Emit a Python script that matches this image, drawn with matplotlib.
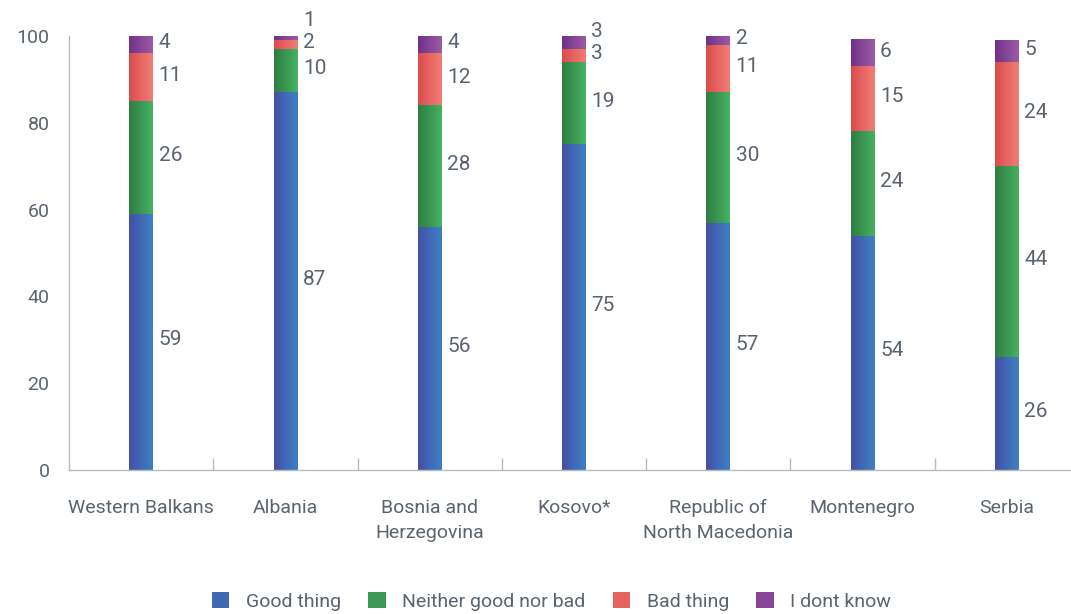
import numpy as np
import matplotlib
matplotlib.use("Agg")
import matplotlib.pyplot as plt
from matplotlib.colors import LinearSegmentedColormap
from matplotlib.patches import Patch

# data
countries = ["Western Balkans", "Albania", "Bosnia and\nHerzegovina", "Kosovo*",
             "Republic of\nNorth Macedonia", "Montenegro", "Serbia"]
good = [59, 87, 56, 75, 57, 54, 26]
neither = [26, 10, 28, 19, 30, 24, 44]
bad = [11, 2, 12, 3, 11, 15, 24]
dont_know = [4, 1, 4, 3, 2, 6, 5]
series_names = ["Good thing", "Neither good nor bad", "Bad thing", "I dont know"]

# gradient colours (left -> right) for each series
grads = [("#4650a5", "#3c80c5"),
         ("#2e7d42", "#46b262"),
         ("#db4c4c", "#f17d76"),
         ("#71318a", "#9c5ba6")]
mids = ["#4168b5", "#3a9852", "#e6625f", "#874598"]

txt = "#5a6470"
axis_col = "#b5bbc0"

plt.rcParams["font.family"] = ["Roboto", "DejaVu Sans"]

fig = plt.figure(figsize=(10.71, 6.14), dpi=100)
ax = fig.add_axes([69 / 1071, 144 / 614, 1010 / 1071, 434 / 614])

x = np.arange(len(countries))
width = 0.165
data = [good, neither, bad, dont_know]
bottoms = np.zeros(len(countries))
grad_img = np.linspace(0, 1, 64).reshape(1, -1)
centers = []
for vals, (c0, c1) in zip(data, grads):
    vals = np.array(vals, dtype=float)
    cmap = LinearSegmentedColormap.from_list("g", [c0, c1])
    for xi, b, v in zip(x, bottoms, vals):
        ax.imshow(grad_img, cmap=cmap, aspect="auto", interpolation="bilinear",
                  extent=[xi - width / 2, xi + width / 2, b, b + v], zorder=2)
    centers.append(bottoms + vals / 2)
    bottoms = bottoms + vals

# value labels, nudged upwards when they would overlap
gap = 5.0
for i, xi in enumerate(x):
    prev = -100
    for s in range(len(data)):
        pos = max(centers[s][i], prev + gap)
        prev = pos
        ax.annotate(str(data[s][i]), (xi + width / 2, pos), xytext=(4, 1.5),
                    textcoords="offset points", ha="left", va="center",
                    fontsize=15, color=txt, annotation_clip=False)

ax.set_xlim(-0.5, len(countries) - 0.5)
ax.set_ylim(0, 100)
ax.set_yticks(range(0, 101, 20))
ax.set_xticks(x)
ax.set_xticklabels(countries, fontsize=14, color=txt, linespacing=1.5)
ax.set_xticks(x[:-1] + 0.5, minor=True)
ax.tick_params(axis="x", which="major", length=0, pad=21)
ax.tick_params(axis="x", which="minor", direction="in", length=9, color=axis_col, width=1)
ax.tick_params(axis="y", length=0, pad=14, labelsize=14, labelcolor=txt)

for side in ["top", "right"]:
    ax.spines[side].set_visible(False)
for side in ["left", "bottom"]:
    ax.spines[side].set_color(axis_col)
    ax.spines[side].set_linewidth(1)

handles = [Patch(facecolor=c, edgecolor="none") for c in mids]
fig.legend(handles, series_names, loc="center", bbox_to_anchor=(0.515, 0.02),
           ncol=4, frameon=False, fontsize=14, labelcolor=txt,
           handlelength=0.9, handleheight=0.9, handletextpad=0.85, columnspacing=1.4)

fig.savefig("out.png", dpi=100)
